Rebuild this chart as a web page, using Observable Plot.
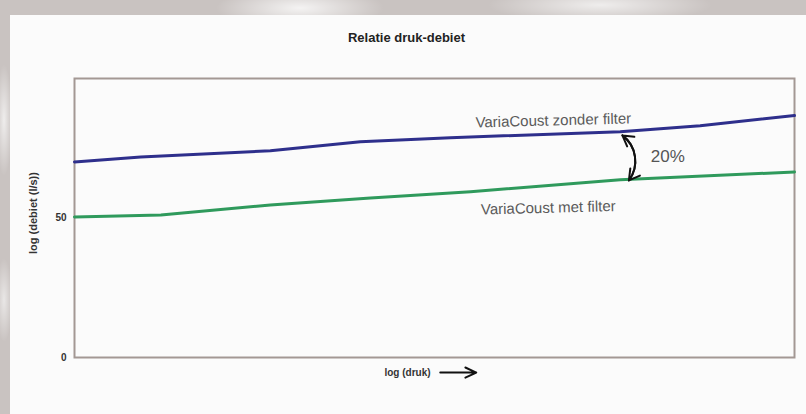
<!DOCTYPE html>
<html>
<head>
<meta charset="utf-8">
<script src="https://cdn.jsdelivr.net/npm/d3@7"></script>
<script src="https://cdn.jsdelivr.net/npm/@observablehq/plot@0.6"></script>
<style>
  html, body { margin: 0; padding: 0; }
  body {
    width: 806px; height: 414px; position: relative; overflow: hidden;
    background:
      radial-gradient(ellipse 120px 30px at 300px 8px, rgba(255,255,255,0.8), rgba(255,255,255,0) 70%),
      radial-gradient(ellipse 160px 25px at 600px 5px, rgba(255,255,255,0.7), rgba(255,255,255,0) 70%),
      radial-gradient(ellipse 12px 80px at 4px 120px, rgba(255,255,255,0.7), rgba(255,255,255,0) 70%),
      radial-gradient(ellipse 12px 60px at 4px 300px, rgba(255,255,255,0.6), rgba(255,255,255,0) 70%),
      #c9c3c1;
    font-family: "Liberation Sans", Arial, sans-serif;
  }
  #panel { position: absolute; left: 10px; top: 15px; width: 796px; height: 399px; background: #fbfbfb; }
  #chart { position: absolute; left: 0; top: 0; }
</style>
</head>
<body>
<div id="panel"></div>
<div id="chart"></div>
<script>
// Series: VariaCoust zonder filter (blue)
const zonderX = [0, 9.2, 27.2, 39.7, 52.2, 75.8, 86.9, 100];
const zonderY = [70.1, 71.9, 74.1, 77.3, 78.8, 80.9, 83.1, 86.7];
// Series: VariaCoust met filter (green)
const metX = [0, 12, 27.2, 41.1, 55, 75.8, 100];
const metY = [50.4, 51.1, 54.7, 57.2, 59.4, 63.7, 66.5];

const yTicks = [0, 50];
const title = "Relatie druk-debiet";
const yLabel = "log (debiet (l/s))";
const xLabel = "log (druk)";

const seriesLabels = [
  {text: "VariaCoust zonder filter", x: 66.5, y: 84.9},
  {text: "VariaCoust met filter", x: 65.8, y: 53.6}
];
const pctLabel = [{text: "20%", x: 82.4, y: 71.9}];
const curvedArrow = [{x1: 76.1, y1: 79.6, x2: 77.0, y2: 63.5}];
const axisArrow = [{x1: 50.8, y1: -5.4, x2: 55.8, y2: -5.4}];

const zonder = zonderX.map((x, i) => ({x, y: zonderY[i]}));
const met = metX.map((x, i) => ({x, y: metY[i]}));

const plot = Plot.plot({
  width: 806,
  height: 414,
  marginLeft: 74,
  marginRight: 12,
  marginTop: 78,
  marginBottom: 57,
  style: {background: "transparent", fontFamily: "Liberation Sans, Arial, sans-serif"},
  x: {domain: [0, 100], axis: null},
  y: {domain: [0, 100], axis: null},
  marks: [
    Plot.frame({stroke: "#a39894", strokeWidth: 2}),
    Plot.line(zonder, {x: "x", y: "y", stroke: "#2e2f8c", strokeWidth: 3}),
    Plot.line(met, {x: "x", y: "y", stroke: "#2f9a5c", strokeWidth: 3}),
    Plot.axisY(yTicks, {anchor: "left", tickSize: 0, tickPadding: 8, fontSize: 10, fontWeight: "bold", fill: "#333", label: null}),
    Plot.text(seriesLabels, {x: "x", y: "y", text: "text", fontSize: 15, fill: "#5a5a5a", rotate: -1.5}),
    Plot.text(pctLabel, {x: "x", y: "y", text: "text", fontSize: 17, fill: "#555"}),
    Plot.arrow(curvedArrow, {x1: "x1", y1: "y1", x2: "x2", y2: "y2", bend: 45, stroke: "#111", strokeWidth: 2, headLength: 9, inset: 0}),
    Plot.arrow(curvedArrow, {x1: "x2", y1: "y2", x2: "x1", y2: "y1", bend: -45, stroke: "#111", strokeWidth: 2, headLength: 9, inset: 0}),
    Plot.arrow(axisArrow, {x1: "x1", y1: "y1", x2: "x2", y2: "y2", stroke: "#111", strokeWidth: 2, headLength: 9, headAngle: 50, inset: 0}),
    Plot.text([title], {frameAnchor: "top", dx: -28, dy: -41, lineAnchor: "middle", textAnchor: "middle", fontSize: 13, fontWeight: "bold", fill: "#222"}),
    Plot.text([yLabel], {frameAnchor: "left", rotate: -90, dx: -41, dy: -5, textAnchor: "middle", lineAnchor: "middle", fontSize: 11, fontWeight: "bold", fill: "#333"}),
    Plot.text([xLabel], {frameAnchor: "bottom", dx: -27, dy: 15, lineAnchor: "middle", textAnchor: "middle", fontSize: 10, fontWeight: "bold", fill: "#333"})
  ]
});
document.getElementById("chart").append(plot);
</script>
</body>
</html>
